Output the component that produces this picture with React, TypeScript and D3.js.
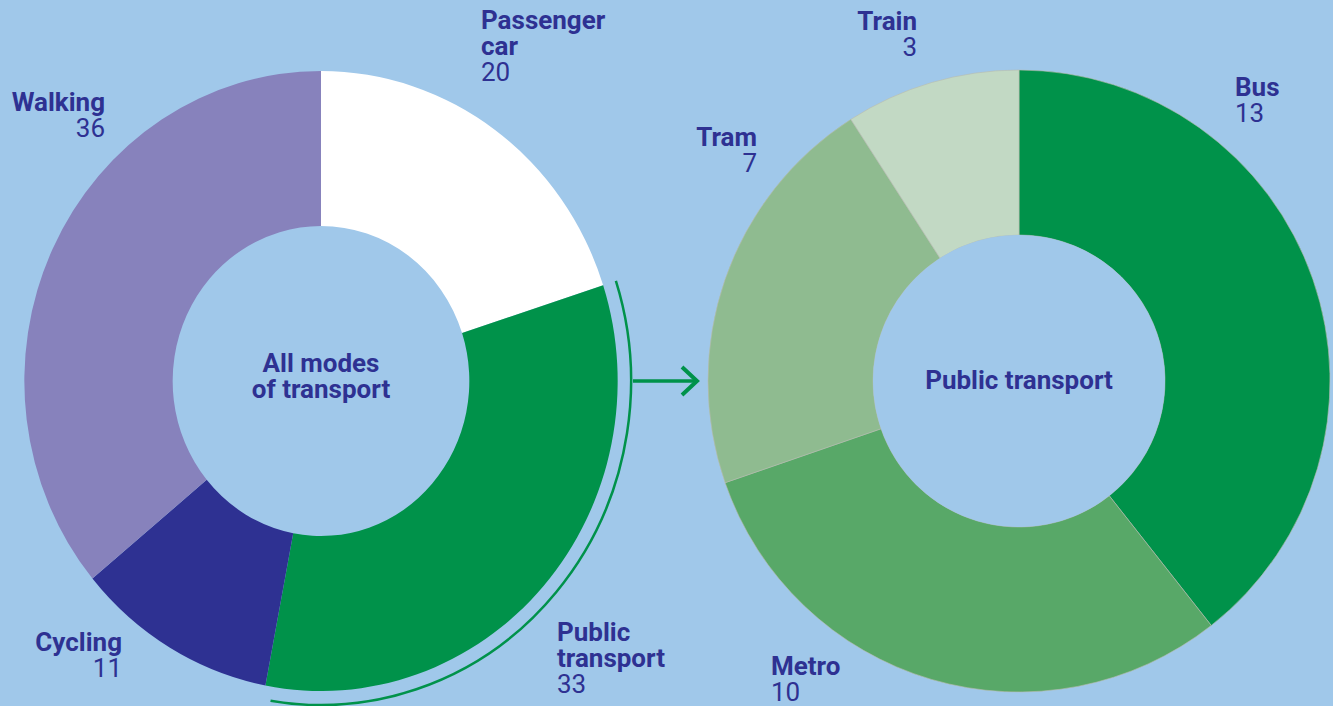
import React from "react";
import * as d3 from "d3";

const modeLabels = ["Passenger car", "Public transport", "Cycling", "Walking"];
const modeValues = [20, 33, 11, 36];
const modeColors = ["#ffffff", "#00924a", "#2e3192", "#8782bc"];

const ptLabels = ["Bus", "Metro", "Tram", "Train"];
const ptValues = [13, 10, 7, 3];
const ptColors = ["#00924a", "#58a868", "#8fbb90", "#c2d9c4"];

const BG = "#a0c8ea";
const TEXT = "#2e3192";
const FONT = "Roboto, 'Noto Sans', sans-serif";

type Lbl = { lines: string[]; value: number; x: number; y: number; anchor: "start" | "end" };

export default function App() {
  const W = 1333, H = 706;
  const L = { cx: 321, cy: 381, ro: 310, ri: 155, sx: 0.957 };
  const R = { cx: 1019, cy: 381, ro: 311, ri: 146 };

  const pie = d3.pie<number>().sort(null).value((d) => d);
  const leftArcs = pie(modeValues);
  const rightArcs = pie(ptValues);
  const arcL = d3.arc<d3.PieArcDatum<number>>().innerRadius(L.ri).outerRadius(L.ro);
  const arcR = d3.arc<d3.PieArcDatum<number>>().innerRadius(R.ri).outerRadius(R.ro);

  const pt = leftArcs[1];
  const outline = d3.arc()({
    innerRadius: 324,
    outerRadius: 324,
    startAngle: pt.startAngle,
    endAngle: pt.endAngle - 0.025,
  } as any) as string;

  const lh = 26;
  const leftLbls: Lbl[] = [
    { lines: ["Passenger", "car"], value: modeValues[0], x: 481, y: 29, anchor: "start" },
    { lines: ["Public", "transport"], value: modeValues[1], x: 557, y: 641, anchor: "start" },
    { lines: ["Cycling"], value: modeValues[2], x: 122, y: 651, anchor: "end" },
    { lines: ["Walking"], value: modeValues[3], x: 105, y: 111, anchor: "end" },
  ];
  const rightLbls: Lbl[] = [
    { lines: ["Bus"], value: ptValues[0], x: 1235, y: 96, anchor: "start" },
    { lines: ["Metro"], value: ptValues[1], x: 771, y: 675, anchor: "start" },
    { lines: ["Tram"], value: ptValues[2], x: 757, y: 146, anchor: "end" },
    { lines: ["Train"], value: ptValues[3], x: 917, y: 30, anchor: "end" },
  ];

  const renderLbl = (l: Lbl, i: number) => (
    <text key={i} x={l.x} y={l.y} textAnchor={l.anchor} fill={TEXT} fontFamily={FONT} fontSize={26}>
      {l.lines.map((s, j) => (
        <tspan key={j} x={l.x} y={l.y + j * lh} fontWeight={700}>{s}</tspan>
      ))}
      <tspan x={l.x} y={l.y + l.lines.length * lh} fontWeight={400}>{l.value}</tspan>
    </text>
  );

  return (
    <svg width={W} height={H} style={{ position: "fixed", left: 0, top: 0, display: "block" }}>
      <rect width={W} height={H} fill={BG} />
      <g transform={`translate(${L.cx},${L.cy}) scale(${L.sx},1)`}>
        {leftArcs.map((a, i) => (
          <path key={i} d={arcL(a) as string} fill={modeColors[i]} />
        ))}
        <path d={outline} fill="none" stroke="#00924a" strokeWidth={2.5} vectorEffect="non-scaling-stroke" />
      </g>
      <g transform={`translate(${R.cx},${R.cy})`}>
        {rightArcs.map((a, i) => (
          <path key={i} d={arcR(a) as string} fill={ptColors[i]} stroke="#b9bcae" strokeWidth={0.6} />
        ))}
        <circle r={R.ri} fill={BG} />
      </g>
      <line x1={633} y1={381} x2={697} y2={381} stroke="#00924a" strokeWidth={3.5} />
      <polyline points="682,367 697,381 682,395" fill="none" stroke="#00924a" strokeWidth={4} />
      {leftLbls.map(renderLbl)}
      {rightLbls.map(renderLbl)}
      <text x={L.cx} textAnchor="middle" fill={TEXT} fontFamily={FONT} fontSize={26} fontWeight={700}>
        <tspan x={L.cx} y={372}>All modes</tspan>
        <tspan x={L.cx} y={398}>of transport</tspan>
      </text>
      <text x={R.cx} y={389} textAnchor="middle" fill={TEXT} fontFamily={FONT} fontSize={26} fontWeight={700}>
        Public transport
      </text>
    </svg>
  );
}
